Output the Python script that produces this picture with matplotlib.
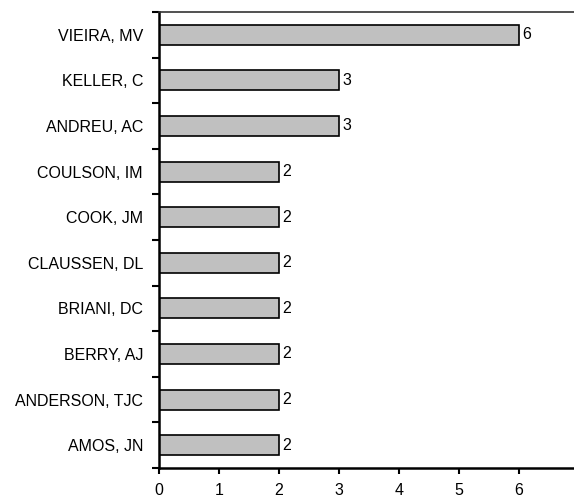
import matplotlib
matplotlib.use('Agg')
import matplotlib.pyplot as plt

names = ['AMOS, JN', 'ANDERSON, TJC', 'BERRY, AJ', 'BRIANI, DC', 'CLAUSSEN, DL',
         'COOK, JM', 'COULSON, IM', 'ANDREU, AC', 'KELLER, C', 'VIEIRA, MV']
counts = [2, 2, 2, 2, 2, 2, 2, 3, 3, 6]

plt.rcParams['font.family'] = ['Liberation Sans', 'DejaVu Sans']

fig = plt.figure(figsize=(5.74, 5.0), dpi=100)
ax = fig.add_axes([159 / 574, 32 / 500, 420 / 574, 456 / 500])

pos = list(range(len(names)))
ax.barh(pos, counts, height=0.44, color='#c0c0c0', edgecolor='black', linewidth=1.2)

for p, c in zip(pos, counts):
    ax.text(c + 0.06, p, str(c), va='center', ha='left', fontsize=11.5)

ax.set_xlim(0, 7)
ax.set_ylim(-0.5, len(names) - 0.5)
ax.set_xticks(range(0, 8))

# labels centred on bars, ticks at category boundaries
ax.set_yticks(pos)
ax.set_yticklabels(names, fontsize=11.5)
ax.tick_params(axis='y', which='major', length=0, pad=11.5)
ax.set_yticks([p - 0.5 for p in range(len(names) + 1)], minor=True)
ax.tick_params(axis='y', which='minor', length=5, width=1.5, direction='out')
ax.tick_params(axis='x', length=4, width=1.5, direction='out', labelsize=11.5, pad=7)

ax.spines['left'].set_linewidth(1.8)
ax.spines['bottom'].set_linewidth(1.8)
ax.spines['top'].set_linewidth(1.2)
ax.spines['top'].set_color('#333333')
ax.spines['right'].set_visible(False)

fig.savefig('out.png', dpi=100)
